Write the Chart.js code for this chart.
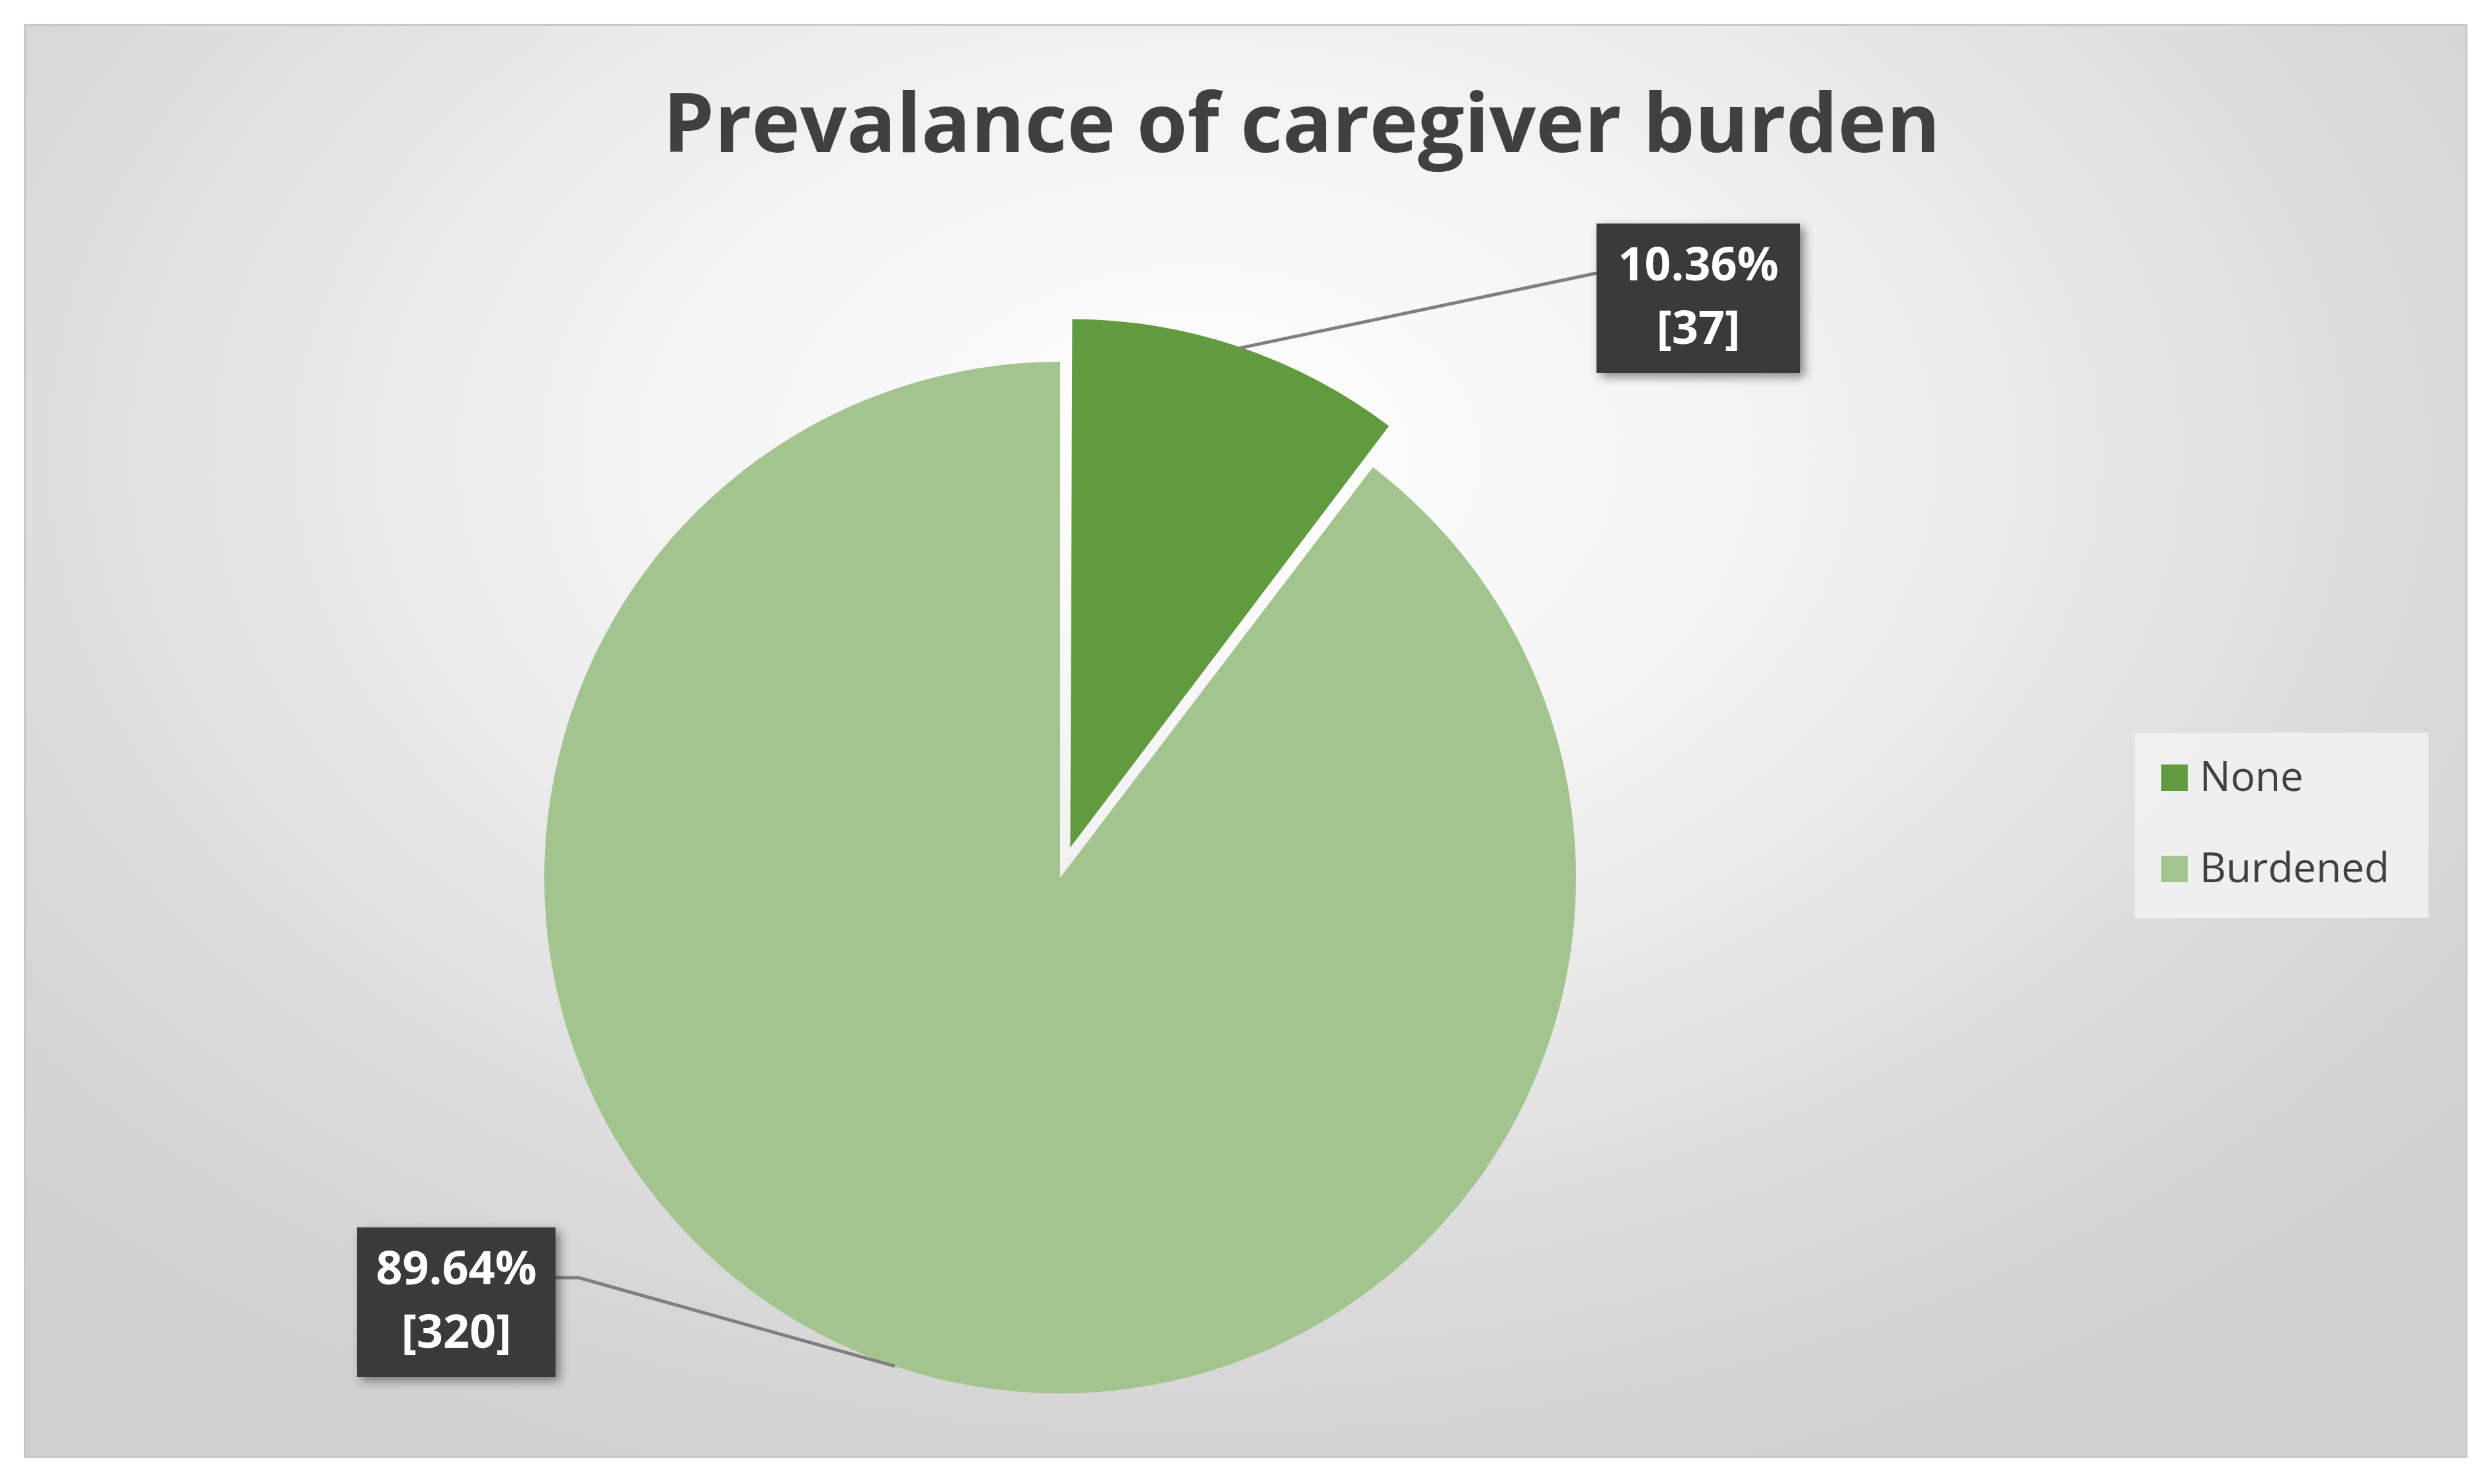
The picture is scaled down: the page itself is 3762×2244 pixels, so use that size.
<!DOCTYPE html>
<html><head><meta charset="utf-8">
<script src="https://cdn.jsdelivr.net/npm/chart.js@4/dist/chart.umd.min.js"></script>
<style>
html,body{margin:0;padding:0;background:#fff;}
#wrap{position:absolute;left:36px;top:36px;width:3689px;height:2163px;border:3px solid #c8c8c8;
 background:radial-gradient(ellipse 70% 80% at 48% 30%, #ffffff 0%, #f2f2f2 35%, #d9d9d9 75%, #cfcfcf 100%);}
canvas{position:absolute;left:0;top:0;}
</style></head><body>
<div id="wrap"></div>
<canvas id="c" width="3762" height="2244"></canvas>
<script>
const categories = ['None', 'Burdened'];
const counts = [37, 320];
const percents = ['10.36%', '89.64%'];
const colors = ['#629b3f', '#a3c48f'];
const title = 'Prevalance of caregiver burden';

const font = '"Open Sans", "Noto Sans", sans-serif';

const decor = {
  id: 'decor',
  afterDraw(chart) {
    const ctx = chart.ctx;
    ctx.save();
    // title
    ctx.fillStyle = '#404040';
    ctx.font = 'bold 124px ' + font;
    ctx.textAlign = 'center';
    ctx.textBaseline = 'middle';
    ctx.fillText(title, 1968, 195);

    // legend
    ctx.fillStyle = 'rgba(242,242,242,0.85)';
    ctx.fillRect(3228, 1108, 444, 280);
    ctx.font = '62px ' + font;
    ctx.textAlign = 'left';
    categories.forEach((c, i) => {
      const y = 1176 + i * 138;
      ctx.fillStyle = colors[i];
      ctx.fillRect(3268, y - 20, 40, 40);
      ctx.fillStyle = '#404040';
      ctx.fillText(c, 3326, y + 2);
    });

    // data labels
    const arcs = chart.getDatasetMeta(0).data;
    const boxes = [
      {x: 2414, y: 338, w: 308, h: 226, endX: 2414, endY: 413, frac: 0.96, shift: 96, ang: null},
      {x: 540, y: 1856, w: 300, h: 226, endX: 840, endY: 1932, frac: 1.0, shift: 0, ang: 1.897}
    ];
    arcs.forEach((a, i) => {
      const b = boxes[i];
      const mid = b.ang !== null ? b.ang : (a.startAngle + a.endAngle) / 2;
      const len = a.outerRadius * b.frac + b.shift;
      const px = a.x + Math.cos(mid) * len;
      const py = a.y + Math.sin(mid) * len;
      ctx.strokeStyle = '#7f7f7f';
      ctx.lineWidth = 5;
      ctx.beginPath();
      ctx.moveTo(px, py);
      if (i === 1) { ctx.lineTo(b.endX + 35, b.endY); }
      ctx.lineTo(b.endX, b.endY);
      ctx.stroke();
      ctx.shadowColor = 'rgba(0,0,0,0.45)';
      ctx.shadowBlur = 14; ctx.shadowOffsetX = 6; ctx.shadowOffsetY = 6;
      ctx.fillStyle = '#3a3a3a';
      ctx.fillRect(b.x, b.y, b.w, b.h);
      ctx.shadowColor = 'transparent';
      ctx.fillStyle = '#ffffff';
      ctx.font = 'bold 70px ' + font;
      ctx.textAlign = 'center';
      ctx.fillText(percents[i], b.x + b.w / 2, b.y + 66);
      ctx.fillText('[' + counts[i] + ']', b.x + b.w / 2, b.y + 162);
    });
    ctx.restore();
  }
};

new Chart(document.getElementById('c'), {
  type: 'pie',
  data: {
    labels: categories,
    datasets: [{
      data: counts,
      backgroundColor: colors,
      borderWidth: 0,
      borderColor: 'rgba(0,0,0,0)',
      offset: [192, 0]
    }]
  },
  options: {
    responsive: false,
    animation: false,
    layout: {padding: {left: 727, right: 1283, top: 451, bottom: 41}},
    plugins: {legend: {display: false}, tooltip: {enabled: false}}
  },
  plugins: [decor]
});
</script>
</body></html>
